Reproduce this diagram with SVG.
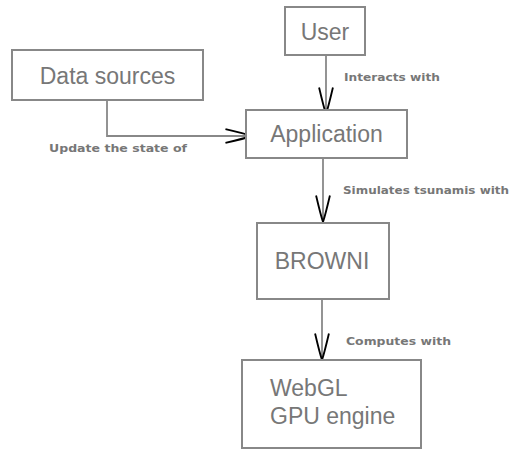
<svg xmlns="http://www.w3.org/2000/svg" width="514" height="450" viewBox="0 0 514 450">
<style>
.box{fill:#fff;stroke:#888;stroke-width:2}
.t{font-family:"Liberation Sans",Arial,sans-serif;font-size:23px;fill:#777}
.lbl{font-family:"DejaVu Sans",sans-serif;font-size:10px;font-weight:bold;fill:#777}
.edge{fill:none;stroke:#888;stroke-width:1.8}
</style>
<defs>
<marker id="arr" markerUnits="userSpaceOnUse" markerWidth="30" markerHeight="20" viewBox="-24 -8 26 16" refX="0" refY="0" orient="auto">
<path d="M-23,-6 Q-6,-2 0,0 Q-6,2 -23,6" fill="none" stroke="#000" stroke-width="1.6"/>
</marker>
</defs>
<rect width="514" height="450" fill="#fff"/>
<g id="connectors">
<path class="edge" d="M326,56 V114" marker-end="url(#arr)"/>
<path class="edge" d="M107,100 V136 H252" marker-end="url(#arr)"/>
<path class="edge" d="M323,158 V222" marker-end="url(#arr)"/>
<path class="edge" d="M322,299 V360" marker-end="url(#arr)"/>
<text class="lbl" x="344" y="81" textLength="96" lengthAdjust="spacingAndGlyphs">Interacts with</text>
<text class="lbl" x="49" y="152" textLength="138" lengthAdjust="spacingAndGlyphs">Update the state of</text>
<text class="lbl" x="343" y="194" textLength="166" lengthAdjust="spacingAndGlyphs">Simulates tsunamis with</text>
<text class="lbl" x="346" y="345" textLength="105" lengthAdjust="spacingAndGlyphs">Computes with</text>
</g>
<g id="user">
<rect class="box" x="285" y="7" width="80" height="48"/>
<text class="t" x="325" y="40" text-anchor="middle">User</text>
</g>
<g id="data-sources">
<rect class="box" x="12" y="50" width="191" height="50"/>
<text class="t" x="107.5" y="84" text-anchor="middle">Data sources</text>
</g>
<g id="application">
<rect class="box" x="246" y="110" width="161" height="48"/>
<text class="t" x="326.5" y="142" text-anchor="middle">Application</text>
</g>
<g id="browni">
<rect class="box" x="257" y="223" width="132" height="76"/>
<text class="t" x="322" y="269" text-anchor="middle">BROWNI</text>
</g>
<g id="webgl">
<rect class="box" x="242" y="360" width="179" height="88"/>
<text class="t" x="270" y="396">WebGL</text>
<text class="t" x="270" y="424">GPU engine</text>
</g>
</svg>
